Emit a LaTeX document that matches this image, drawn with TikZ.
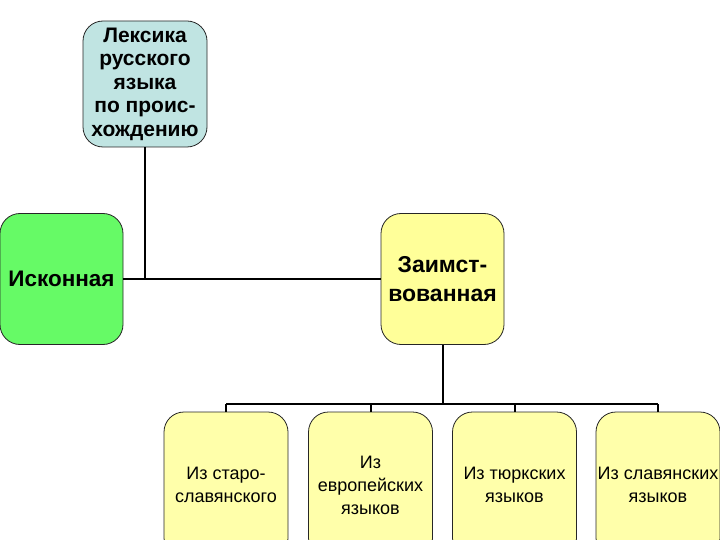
\documentclass[tikz,border=0pt]{standalone}
\usepackage{fontspec}
\setmainfont{Liberation Sans}
\definecolor{teal0}{RGB}{192,228,226}
\definecolor{green0}{RGB}{102,250,102}
\definecolor{yellow0}{RGB}{255,255,153}
\definecolor{yellow1}{RGB}{255,255,170}
\tikzset{
  box/.style={draw=black!85, line width=0.8pt, rounded corners=20pt, align=center, inner sep=0pt},
  conn/.style={line width=2pt, black},
}
\begin{document}
\begin{tikzpicture}[x=1pt,y=-1pt]
\useasboundingbox (0,0) rectangle (720,540);
\clip (0,0) rectangle (720,540);
\node[box, fill=teal0, minimum width=124pt, minimum height=126pt,
  font=\fontsize{21}{23.5}\selectfont\bfseries] (top) at (145,84)
  {Лексика\\русского\\языка\\по проис-\\хождению};
\node[box, fill=green0, minimum width=123pt, minimum height=131pt,
  font=\fontsize{22.5}{28}\selectfont\bfseries] (isk) at (61.5,279) {Исконная};
\node[box, fill=yellow0, minimum width=123pt, minimum height=131pt,
  font=\fontsize{23}{29}\selectfont\bfseries] (zaim) at (442.5,279) {Заимст-\\вованная};
\tikzset{child/.style={box, fill=yellow1, minimum width=124pt, minimum height=146pt,
  font=\fontsize{18}{23}\selectfont}}
\node[child] (c1) at (226,485) {Из старо-\\славянского};
\node[child] (c2) at (370.5,485) {Из\\европейских\\языков};
\node[child] (c3) at (514.5,485) {Из тюркских\\языков};
\node[child] (c4) at (658,485) {Из славянских\\языков};
\draw[conn] (top.south) -- (top.south |- isk.east);
\draw[conn] (isk.east) -- (isk.east -| zaim.west);
\coordinate (bus) at (442.5,404);
\draw[conn] (zaim.south) -- (bus);
\draw[conn] (c1.north |- bus) -- (c4.north |- bus);
\foreach \c in {c1,c2,c3,c4} \draw[conn] (\c.north |- bus) -- (\c.north);
\end{tikzpicture}
\end{document}
